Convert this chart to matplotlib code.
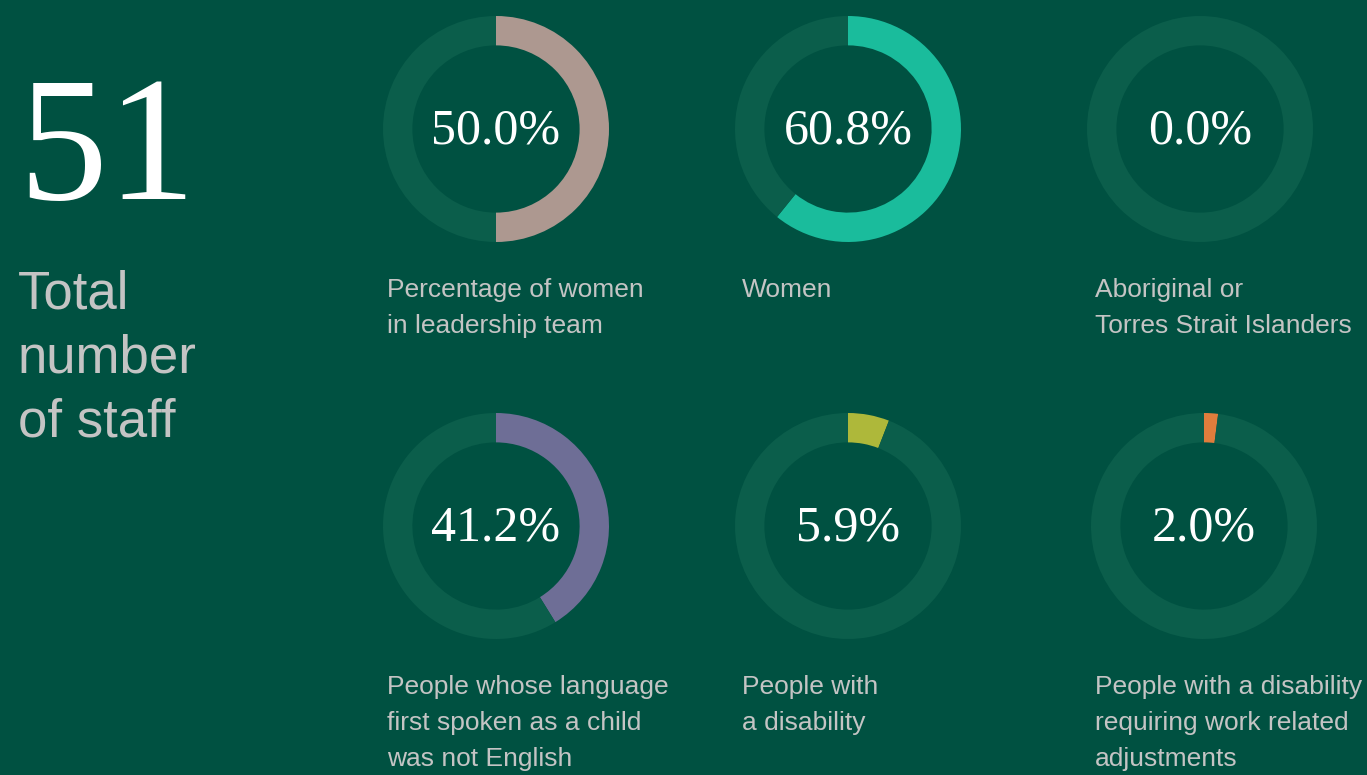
import matplotlib.pyplot as plt

# data
total_staff = 51
labels = [
    "Percentage of women\nin leadership team",
    "Women",
    "Aboriginal or\nTorres Strait Islanders",
    "People whose language\nfirst spoken as a child\nwas not English",
    "People with\na disability",
    "People with a disability\nrequiring work related\nadjustments",
]
values = [50.0, 60.8, 0.0, 41.2, 5.9, 2.0]
colors = ["#AD9890", "#1ABC9C", "#1ABC9C", "#6E6E96", "#AEB83A", "#E07D3C"]

# layout (pixels)
W, H = 1367, 775
centres = [(496, 129), (848, 129), (1200, 129), (496, 526), (848, 526), (1204, 526)]
label_x = [387, 742, 1095, 387, 742, 1095]
label_y = [278, 278, 278, 675, 675, 675]
R = 113

bg = "#005141"
track = "#0B5E4B"
grey = "#C4C4C4"

fig = plt.figure(figsize=(W / 100, H / 100), dpi=100, facecolor=bg)

fig.text(18 / W, 1 - 156 / H, str(total_staff), fontsize=128, color="white",
         family="Liberation Serif", ha="left", va="center")
fig.text(18 / W, 1 - 269 / H, "Total\nnumber\nof staff", fontsize=38, color=grey,
         family="Liberation Sans", ha="left", va="top", linespacing=1.36)

for i, v in enumerate(values):
    cx, cy = centres[i]
    ax = fig.add_axes([(cx - R) / W, 1 - (cy + R) / H, 2 * R / W, 2 * R / H])
    ax.pie([v, 100 - v], colors=[colors[i], track], startangle=90, counterclock=False,
           radius=1, wedgeprops=dict(width=0.26, linewidth=0))
    ax.set_xlim(-1, 1)
    ax.set_ylim(-1, 1)
    ax.axis("off")
    ax.text(0, -0.02, f"{v:.1f}%", fontsize=36, color="white", family="Liberation Serif",
            ha="center", va="center")
    fig.text(label_x[i] / W, 1 - label_y[i] / H, labels[i], fontsize=19, color=grey,
             family="Liberation Sans", ha="left", va="top", linespacing=1.63)

fig.savefig("out.png", dpi=100, facecolor=bg)
